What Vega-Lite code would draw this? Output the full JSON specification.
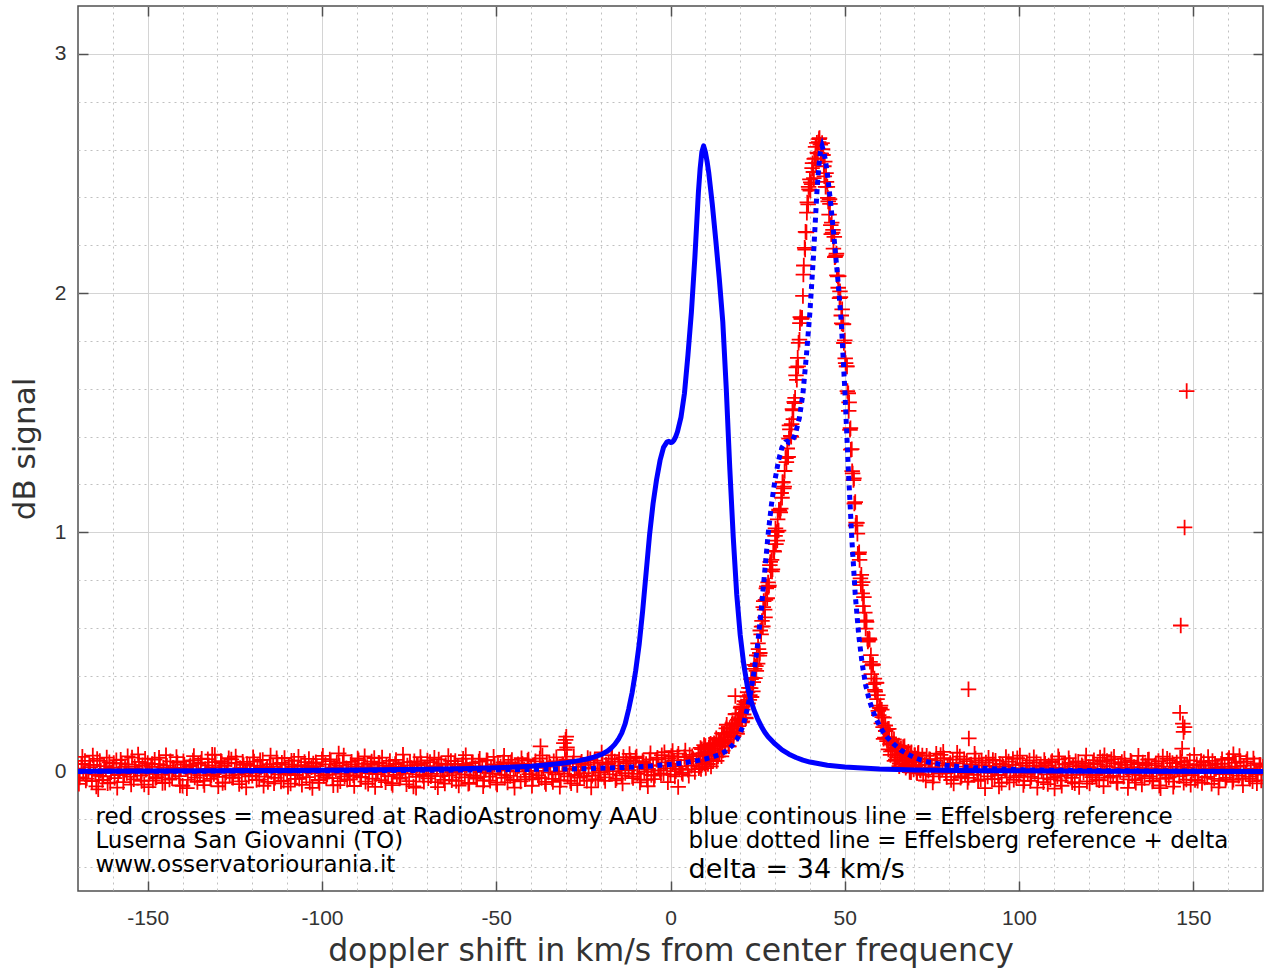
{
"$schema": "https://vega.github.io/schema/vega-lite/v6.json",
"autosize": {"type": "none"},
"width": 1185,
"height": 885,
"padding": {"left": 78, "top": 6, "right": 3, "bottom": 83},
"background": "white",
"config": {"view": {"stroke": "#505050", "strokeWidth": 1.5}},
"datasets": {
"measured": [
{"x":-170,"y":0.012},{"x":-169.5,"y":-0.025},{"x":-169,"y":0.031},{"x":-168.5,"y":-0.008},{"x":-168,"y":0.044},{"x":-167.5,"y":-0.030},{"x":-167,"y":0.005},{"x":-166.5,"y":0.018},{"x":-166,"y":-0.041},{"x":-165.5,"y":0.027},
{"x":-165,"y":-0.012},{"x":-164.5,"y":0.052},{"x":-164,"y":-0.019},{"x":-163.5,"y":0.003},{"x":-163,"y":-0.036},{"x":-162.5,"y":0.022},{"x":-162,"y":0.009},{"x":-161.5,"y":-0.050},{"x":-161,"y":0.038},{"x":-160.5,"y":-0.004},
{"x":-160,"y":0.015},{"x":-159.5,"y":-0.028},{"x":-159,"y":0.047},{"x":-158.5,"y":-0.015},{"x":-158,"y":0.001},{"x":-157.5,"y":0.033},{"x":-157,"y":-0.045},{"x":-156.5,"y":0.020},{"x":-156,"y":-0.007},{"x":-155.5,"y":0.029},
{"x":-155,"y":-0.022},{"x":-154.5,"y":0.058},{"x":-154,"y":-0.033},{"x":-153.5,"y":0.011},{"x":-153,"y":-0.002},{"x":-152.5,"y":0.040},{"x":-152,"y":-0.018},{"x":-151.5,"y":0.026},{"x":-151,"y":-0.055},{"x":-150.5,"y":0.007},
{"x":-150,"y":0.035},{"x":-149.5,"y":-0.010},{"x":-149,"y":0.019},{"x":-148.5,"y":-0.038},{"x":-148,"y":0.049},{"x":-147.5,"y":-0.024},{"x":-147,"y":0.002},{"x":-146.5,"y":0.030},{"x":-146,"y":-0.014},{"x":-145.5,"y":0.016},
{"x":-145,"y":-0.047},{"x":-144.5,"y":0.024},{"x":-144,"y":-0.006},{"x":-143.5,"y":0.042},{"x":-143,"y":-0.029},{"x":-142.5,"y":0.013},{"x":-142,"y":-0.001},{"x":-141.5,"y":0.037},{"x":-141,"y":-0.020},{"x":-140.5,"y":0.008},
{"x":-140,"y":-0.060},{"x":-139.5,"y":0.028},{"x":-139,"y":0.014},{"x":-138.5,"y":-0.035},{"x":-138,"y":0.021},{"x":-137.5,"y":-0.009},{"x":-137,"y":0.046},{"x":-136.5,"y":-0.026},{"x":-136,"y":0.004},{"x":-135.5,"y":0.032},
{"x":-135,"y":-0.016},{"x":-134.5,"y":0.053},{"x":-134,"y":-0.040},{"x":-133.5,"y":0.010},{"x":-133,"y":-0.003},{"x":-132.5,"y":0.025},{"x":-132,"y":-0.031},{"x":-131.5,"y":0.017},{"x":-131,"y":-0.011},{"x":-130.5,"y":0.039},
{"x":-130,"y":-0.023},{"x":-129.5,"y":0.006},{"x":-129,"y":0.043},{"x":-128.5,"y":-0.048},{"x":-128,"y":0.023},{"x":-127.5,"y":-0.005},{"x":-127,"y":0.034},{"x":-126.5,"y":-0.017},{"x":-126,"y":0.050},{"x":-125.5,"y":-0.027},
{"x":-125,"y":0.000},{"x":-124.5,"y":0.036},{"x":-124,"y":-0.013},{"x":-123.5,"y":0.014},{"x":-123,"y":-0.042},{"x":-122.5,"y":0.027},{"x":-122,"y":-0.008},{"x":-121.5,"y":0.031},{"x":-121,"y":-0.021},{"x":-120.5,"y":0.009},
{"x":-120,"y":-0.018},{"x":-119.5,"y":0.041},{"x":-119,"y":-0.006},{"x":-118.5,"y":0.023},{"x":-118,"y":-0.034},{"x":-117.5,"y":0.015},{"x":-117,"y":0.048},{"x":-116.5,"y":-0.022},{"x":-116,"y":0.007},{"x":-115.5,"y":-0.044},
{"x":-115,"y":0.030},{"x":-114.5,"y":-0.002},{"x":-114,"y":0.019},{"x":-113.5,"y":-0.027},{"x":-113,"y":0.055},{"x":-112.5,"y":-0.012},{"x":-112,"y":0.004},{"x":-111.5,"y":0.036},{"x":-111,"y":-0.039},{"x":-110.5,"y":0.012},
{"x":-110,"y":-0.009},{"x":-109.5,"y":0.028},{"x":-109,"y":-0.051},{"x":-108.5,"y":0.020},{"x":-108,"y":0.045},{"x":-107.5,"y":-0.015},{"x":-107,"y":0.003},{"x":-106.5,"y":-0.031},{"x":-106,"y":0.026},{"x":-105.5,"y":-0.004},
{"x":-105,"y":0.039},{"x":-104.5,"y":-0.024},{"x":-104,"y":0.011},{"x":-103.5,"y":-0.046},{"x":-103,"y":0.017},{"x":-102.5,"y":0.033},{"x":-102,"y":-0.008},{"x":-101.5,"y":0.022},{"x":-101,"y":-0.036},{"x":-100.5,"y":0.006},
{"x":-100,"y":0.051},{"x":-99.5,"y":-0.019},{"x":-99,"y":0.029},{"x":-98.5,"y":-0.013},{"x":-98,"y":-0.001},{"x":-97.5,"y":0.043},{"x":-97,"y":-0.028},{"x":-96.5,"y":0.016},{"x":-96,"y":0.008},{"x":-95.5,"y":-0.057},
{"x":-95,"y":0.024},{"x":-94.5,"y":-0.010},{"x":-94,"y":0.037},{"x":-93.5,"y":-0.021},{"x":-93,"y":0.013},{"x":-92.5,"y":0.002},{"x":-92,"y":-0.033},{"x":-91.5,"y":0.040},{"x":-91,"y":-0.016},{"x":-90.5,"y":0.021},
{"x":-90,"y":-0.005},{"x":-89.5,"y":0.047},{"x":-89,"y":-0.025},{"x":-88.5,"y":0.009},{"x":-88,"y":0.032},{"x":-87.5,"y":-0.043},{"x":-87,"y":0.018},{"x":-86.5,"y":-0.007},{"x":-86,"y":0.027},{"x":-85.5,"y":-0.030},
{"x":-85,"y":0.056},{"x":-84.5,"y":-0.011},{"x":-84,"y":0.005},{"x":-83.5,"y":0.035},{"x":-83,"y":-0.037},{"x":-82.5,"y":0.014},{"x":-82,"y":-0.003},{"x":-81.5,"y":0.024},{"x":-81,"y":-0.020},{"x":-80.5,"y":0.044},
{"x":-80,"y":-0.049},{"x":-79.5,"y":0.010},{"x":-79,"y":0.031},{"x":-78.5,"y":-0.014},{"x":-78,"y":0.019},{"x":-77.5,"y":-0.026},{"x":-77,"y":0.000},{"x":-76.5,"y":0.038},{"x":-76,"y":-0.009},{"x":-75.5,"y":0.025},
{"x":-75,"y":-0.041},{"x":-74.5,"y":0.015},{"x":-74,"y":0.006},{"x":-73.5,"y":0.042},{"x":-73,"y":-0.023},{"x":-72.5,"y":0.028},{"x":-72,"y":-0.012},{"x":-71.5,"y":0.034},{"x":-71,"y":-0.018},{"x":-70.5,"y":0.011},
{"x":-70,"y":0.007},{"x":-69.5,"y":-0.029},{"x":-69,"y":0.039},{"x":-68.5,"y":-0.010},{"x":-68,"y":0.022},{"x":-67.5,"y":-0.045},{"x":-67,"y":0.016},{"x":-66.5,"y":0.050},{"x":-66,"y":-0.020},{"x":-65.5,"y":0.003},
{"x":-65,"y":-0.035},{"x":-64.5,"y":0.027},{"x":-64,"y":0.012},{"x":-63.5,"y":-0.016},{"x":-63,"y":0.044},{"x":-62.5,"y":-0.006},{"x":-62,"y":0.031},{"x":-61.5,"y":-0.040},{"x":-61,"y":0.019},{"x":-60.5,"y":0.001},
{"x":-60,"y":-0.025},{"x":-59.5,"y":0.053},{"x":-59,"y":-0.013},{"x":-58.5,"y":0.024},{"x":-58,"y":-0.052},{"x":-57.5,"y":0.009},{"x":-57,"y":0.035},{"x":-56.5,"y":-0.018},{"x":-56,"y":0.014},{"x":-55.5,"y":-0.030},
{"x":-55,"y":0.041},{"x":-54.5,"y":-0.003},{"x":-54,"y":0.021},{"x":-53.5,"y":-0.038},{"x":-53,"y":0.006},{"x":-52.5,"y":0.046},{"x":-52,"y":-0.022},{"x":-51.5,"y":0.017},{"x":-51,"y":-0.008},{"x":-50.5,"y":0.029},
{"x":-50,"y":-0.047},{"x":-49.5,"y":0.026},{"x":-49,"y":0.011},{"x":-48.5,"y":-0.014},{"x":-48,"y":0.038},{"x":-47.5,"y":-0.027},{"x":-47,"y":0.004},{"x":-46.5,"y":0.033},{"x":-46,"y":-0.019},{"x":-45.5,"y":0.048},
{"x":-45,"y":-0.036},{"x":-44.5,"y":0.013},{"x":-44,"y":-0.001},{"x":-43.5,"y":0.023},{"x":-43,"y":-0.042},{"x":-42.5,"y":0.032},{"x":-42,"y":0.008},{"x":-41.5,"y":-0.023},{"x":-41,"y":0.045},{"x":-40.5,"y":-0.011},
{"x":-40,"y":0.018},{"x":-39.5,"y":-0.033},{"x":-39,"y":0.028},{"x":-38.5,"y":0.002},{"x":-38,"y":-0.017},{"x":-37.5,"y":0.054},{"x":-37,"y":-0.028},{"x":-36.5,"y":0.015},{"x":-36,"y":-0.044},{"x":-35.5,"y":0.037},
{"x":-35,"y":-0.005},{"x":-34.5,"y":0.020},{"x":-34,"y":-0.031},{"x":-33.5,"y":0.042},{"x":-33,"y":-0.012},{"x":-32.5,"y":0.025},{"x":-32,"y":0.000},{"x":-31.5,"y":-0.037},{"x":-31,"y":0.030},{"x":-30.5,"y":-0.009},
{"x":-30,"y":0.047},{"x":-29.5,"y":-0.021},{"x":-29,"y":0.010},{"x":-28.5,"y":-0.050},{"x":-28,"y":0.034},{"x":-27.5,"y":-0.015},{"x":-27,"y":0.019},{"x":-26.5,"y":0.005},{"x":-26,"y":-0.026},{"x":-25.5,"y":0.040},
{"x":-25,"y":-0.007},{"x":-24.5,"y":0.027},{"x":-24,"y":-0.039},{"x":-23.5,"y":0.016},{"x":-23,"y":0.051},{"x":-22.5,"y":-0.018},{"x":-22,"y":0.012},{"x":-21.5,"y":-0.032},{"x":-21,"y":0.036},{"x":-20.5,"y":0.003},
{"x":-20,"y":-0.004},{"x":-19.5,"y":0.038},{"x":-19,"y":-0.025},{"x":-18.5,"y":0.029},{"x":-18,"y":0.016},{"x":-17.5,"y":-0.012},{"x":-17,"y":0.053},{"x":-16.5,"y":0.001},{"x":-16,"y":0.041},{"x":-15.5,"y":-0.030},
{"x":-15,"y":0.024},{"x":-14.5,"y":0.012},{"x":-14,"y":-0.017},{"x":-13.5,"y":0.060},{"x":-13,"y":-0.007},{"x":-12.5,"y":0.034},{"x":-12,"y":0.005},{"x":-11.5,"y":0.047},{"x":-11,"y":-0.021},{"x":-10.5,"y":0.021},
{"x":-10,"y":0.056},{"x":-9.5,"y":-0.010},{"x":-9,"y":0.018},{"x":-8.5,"y":-0.034},{"x":-8,"y":0.043},{"x":-7.5,"y":-0.002},{"x":-7,"y":0.031},{"x":-6.5,"y":0.008},{"x":-6,"y":0.050},{"x":-5.5,"y":-0.015},
{"x":-5,"y":0.025},{"x":-4.5,"y":-0.018},{"x":-4,"y":0.049},{"x":-3.5,"y":0.024},{"x":-3,"y":0.004},{"x":-2.5,"y":0.068},{"x":-2,"y":-0.009},{"x":-1.5,"y":0.038},{"x":-1,"y":0.013},{"x":-0.5,"y":0.055},
{"x":0,"y":-0.014},{"x":0.5,"y":0.032},{"x":1,"y":0.046},{"x":1.5,"y":0.001},{"x":2,"y":0.062},{"x":2.5,"y":0.010},{"x":3,"y":0.021},{"x":3.5,"y":-0.011},{"x":4,"y":0.060},{"x":4.5,"y":0.047},
{"x":5,"y":0.007},{"x":5.5,"y":0.069},{"x":6,"y":0.024},{"x":6.5,"y":0.052},{"x":7,"y":-0.002},{"x":7.5,"y":0.043},
{"x":8,"y":0.075},{"x":8.25,"y":0.020},{"x":8.5,"y":0.064},{"x":8.75,"y":0.010},{"x":9,"y":0.093},{"x":9.25,"y":0.048},{"x":9.5,"y":0.076},{"x":9.75,"y":0.032},
{"x":10,"y":0.106},{"x":10.25,"y":0.047},{"x":10.5,"y":0.068},{"x":10.75,"y":0.031},{"x":11,"y":0.099},{"x":11.25,"y":0.052},{"x":11.5,"y":0.116},{"x":11.75,"y":0.072},
{"x":12,"y":0.094},{"x":12.25,"y":0.043},{"x":12.5,"y":0.118},{"x":12.75,"y":0.076},{"x":13,"y":0.112},{"x":13.25,"y":0.044},{"x":13.5,"y":0.104},{"x":13.75,"y":0.132},
{"x":14,"y":0.076},{"x":14.25,"y":0.122},{"x":14.5,"y":0.108},{"x":14.75,"y":0.159},{"x":15,"y":0.087},{"x":15.25,"y":0.131},{"x":15.5,"y":0.157},{"x":15.75,"y":0.117},
{"x":16,"y":0.180},{"x":16.25,"y":0.133},{"x":16.5,"y":0.160},{"x":16.75,"y":0.105},{"x":17,"y":0.181},{"x":17.25,"y":0.142},{"x":17.5,"y":0.162},{"x":17.75,"y":0.202},
{"x":18,"y":0.144},{"x":18.25,"y":0.198},{"x":18.5,"y":0.179},{"x":18.75,"y":0.240},{"x":19,"y":0.165},{"x":19.25,"y":0.216},{"x":19.5,"y":0.189},{"x":19.75,"y":0.243},
{"x":20,"y":0.216},{"x":20.25,"y":0.271},{"x":20.5,"y":0.205},{"x":20.75,"y":0.259},{"x":21,"y":0.238},{"x":21.25,"y":0.294},{"x":21.5,"y":0.225},{"x":21.75,"y":0.288},
{"x":22,"y":0.313},{"x":22.25,"y":0.284},{"x":22.5,"y":0.349},{"x":22.75,"y":0.319},{"x":23,"y":0.348},{"x":23.25,"y":0.311},{"x":23.5,"y":0.391},{"x":23.75,"y":0.373},
{"x":24,"y":0.445},{"x":24.25,"y":0.390},{"x":24.5,"y":0.440},{"x":24.75,"y":0.485},{"x":25,"y":0.451},{"x":25.25,"y":0.511},{"x":25.5,"y":0.484},{"x":25.75,"y":0.589},
{"x":26,"y":0.573},{"x":26.25,"y":0.629},{"x":26.5,"y":0.606},{"x":26.75,"y":0.712},{"x":27,"y":0.676},{"x":27.25,"y":0.717},{"x":27.5,"y":0.765},{"x":27.75,"y":0.724},
{"x":28,"y":0.790},{"x":28.25,"y":0.777},{"x":28.5,"y":0.862},{"x":28.75,"y":0.837},{"x":29,"y":0.884},{"x":29.25,"y":0.845},{"x":29.5,"y":0.922},{"x":29.75,"y":0.919},
{"x":30,"y":0.985},{"x":30.25,"y":0.950},{"x":30.5,"y":1.001},{"x":30.75,"y":1.054},{"x":31,"y":1.007},{"x":31.25,"y":1.089},{"x":31.5,"y":1.083},{"x":31.75,"y":1.164},
{"x":32,"y":1.144},{"x":32.25,"y":1.209},{"x":32.5,"y":1.183},{"x":32.75,"y":1.256},{"x":33,"y":1.313},{"x":33.25,"y":1.293},{"x":33.5,"y":1.350},{"x":33.75,"y":1.315},
{"x":34,"y":1.391},{"x":34.25,"y":1.430},{"x":34.5,"y":1.403},{"x":34.75,"y":1.452},{"x":35,"y":1.514},{"x":35.25,"y":1.473},{"x":35.5,"y":1.545},{"x":35.75,"y":1.562},
{"x":36,"y":1.656},{"x":36.25,"y":1.637},{"x":36.5,"y":1.729},{"x":36.75,"y":1.792},{"x":37,"y":1.805},{"x":37.25,"y":1.899},{"x":37.5,"y":1.893},{"x":37.75,"y":1.897},
{"x":38,"y":1.988},{"x":38.25,"y":2.115},{"x":38.5,"y":2.189},{"x":38.75,"y":2.256},{"x":39,"y":2.254},{"x":39.25,"y":2.379},{"x":39.5,"y":2.371},{"x":39.75,"y":2.433},
{"x":40,"y":2.475},{"x":40.25,"y":2.463},{"x":40.5,"y":2.455},{"x":40.75,"y":2.543},{"x":41,"y":2.506},{"x":41.25,"y":2.561},{"x":41.5,"y":2.563},{"x":41.75,"y":2.543},
{"x":42,"y":2.628},{"x":42.25,"y":2.584},{"x":42.5,"y":2.631},{"x":42.75,"y":2.648},{"x":43,"y":2.621},{"x":43.25,"y":2.582},{"x":43.5,"y":2.627},{"x":43.75,"y":2.577},
{"x":44,"y":2.530},{"x":44.25,"y":2.549},{"x":44.5,"y":2.444},{"x":44.75,"y":2.465},{"x":45,"y":2.444},{"x":45.25,"y":2.383},{"x":45.5,"y":2.328},{"x":45.75,"y":2.373},
{"x":46,"y":2.284},{"x":46.25,"y":2.294},{"x":46.5,"y":2.252},{"x":46.75,"y":2.186},{"x":47,"y":2.235},{"x":47.25,"y":2.152},{"x":47.5,"y":2.157},{"x":47.75,"y":2.074},
{"x":48,"y":2.070},{"x":48.25,"y":2.071},{"x":48.5,"y":1.979},{"x":48.75,"y":1.983},{"x":49,"y":1.906},{"x":49.25,"y":1.932},{"x":49.5,"y":1.869},{"x":49.75,"y":1.791},
{"x":50,"y":1.802},{"x":50.25,"y":1.707},{"x":50.5,"y":1.693},{"x":50.75,"y":1.590},{"x":51,"y":1.581},{"x":51.25,"y":1.543},{"x":51.5,"y":1.428},{"x":51.75,"y":1.345},
{"x":52,"y":1.347},{"x":52.25,"y":1.246},{"x":52.5,"y":1.218},{"x":52.75,"y":1.120},{"x":53,"y":1.126},{"x":53.25,"y":1.040},{"x":53.5,"y":1.039},{"x":53.75,"y":0.910},
{"x":54,"y":0.908},{"x":54.25,"y":0.884},{"x":54.5,"y":0.807},{"x":54.75,"y":0.822},{"x":55,"y":0.744},{"x":55.25,"y":0.691},{"x":55.5,"y":0.729},{"x":55.75,"y":0.664},
{"x":56,"y":0.597},{"x":56.25,"y":0.625},{"x":56.5,"y":0.555},{"x":56.75,"y":0.548},{"x":57,"y":0.556},{"x":57.25,"y":0.458},{"x":57.5,"y":0.486},{"x":57.75,"y":0.443},
{"x":58,"y":0.448},{"x":58.25,"y":0.365},{"x":58.5,"y":0.388},{"x":58.75,"y":0.334},{"x":59,"y":0.371},{"x":59.25,"y":0.302},{"x":59.5,"y":0.319},{"x":59.75,"y":0.235},
{"x":60,"y":0.267},{"x":60.25,"y":0.275},{"x":60.5,"y":0.201},{"x":60.75,"y":0.227},{"x":61,"y":0.185},{"x":61.25,"y":0.225},{"x":61.5,"y":0.141},{"x":61.75,"y":0.169},
{"x":62,"y":0.136},{"x":62.25,"y":0.177},{"x":62.5,"y":0.092},{"x":62.75,"y":0.142},{"x":63,"y":0.114},{"x":63.25,"y":0.084},{"x":63.5,"y":0.135},{"x":63.75,"y":0.087},
{"x":64,"y":0.117},{"x":64.25,"y":0.044},{"x":64.5,"y":0.098},{"x":64.75,"y":0.110},{"x":65,"y":0.059},{"x":65.25,"y":0.068},{"x":65.5,"y":0.108},{"x":65.75,"y":0.033},
{"x":66,"y":0.072},{"x":66.25,"y":0.079},{"x":66.5,"y":0.032},{"x":66.75,"y":0.102},{"x":67,"y":0.045},{"x":67.25,"y":0.059},{"x":67.5,"y":0.015},{"x":67.75,"y":0.077},
{"x":68,"y":0.028},{"x":68.25,"y":0.082},{"x":68.5,"y":0.036},{"x":68.75,"y":0.065},{"x":69,"y":-0.004},{"x":69.25,"y":0.056},{"x":69.5,"y":0.040},{"x":69.75,"y":0.008},
{"x":70,"y":0.068},{"x":70.25,"y":0.022},{"x":70.5,"y":0.054},{"x":70.75,"y":-0.008},{"x":71,"y":0.073},{"x":71.25,"y":0.025},{"x":71.5,"y":0.042},{"x":71.75,"y":0.004},
{"x":72,"y":0.041},{"x":72.5,"y":-0.014},{"x":73,"y":0.028},{"x":73.5,"y":0.065},{"x":74,"y":0.003},{"x":74.5,"y":0.050},{"x":75,"y":0.017},{"x":75.5,"y":-0.021},{"x":76,"y":0.046},{"x":76.5,"y":0.033},
{"x":77,"y":-0.002},{"x":77.5,"y":0.069},{"x":78,"y":0.011},{"x":78.5,"y":0.055},{"x":79,"y":-0.008},{"x":79.5,"y":0.024},{"x":80,"y":0.027},{"x":80.5,"y":-0.036},{"x":81,"y":0.049},{"x":81.5,"y":-0.003},
{"x":82,"y":0.034},{"x":82.5,"y":0.009},{"x":83,"y":0.062},{"x":83.5,"y":-0.020},{"x":84,"y":0.020},{"x":84.5,"y":-0.009},{"x":85,"y":0.043},{"x":85.5,"y":-0.027},{"x":86,"y":0.028},{"x":86.5,"y":0.016},
{"x":87,"y":-0.014},{"x":87.5,"y":0.054},{"x":88,"y":-0.001},{"x":88.5,"y":0.038},{"x":89,"y":-0.033},{"x":89.5,"y":0.025},{"x":90,"y":0.001},{"x":90.5,"y":0.037},{"x":91,"y":-0.021},{"x":91.5,"y":0.022},
{"x":92,"y":-0.006},{"x":92.5,"y":0.048},{"x":93,"y":-0.032},{"x":93.5,"y":0.012},{"x":94,"y":-0.015},{"x":94.5,"y":0.031},{"x":95,"y":-0.048},{"x":95.5,"y":0.020},{"x":96,"y":0.009},{"x":96.5,"y":-0.026},
{"x":97,"y":0.041},{"x":97.5,"y":-0.004},{"x":98,"y":0.027},{"x":98.5,"y":-0.035},{"x":99,"y":0.014},{"x":99.5,"y":0.055},{"x":100,"y":-0.018},{"x":100.5,"y":0.003},{"x":101,"y":0.034},{"x":101.5,"y":-0.040},
{"x":102,"y":0.023},{"x":102.5,"y":-0.010},{"x":103,"y":0.046},{"x":103.5,"y":-0.023},{"x":104,"y":0.011},{"x":104.5,"y":-0.002},{"x":105,"y":0.038},{"x":105.5,"y":-0.029},{"x":106,"y":0.019},{"x":106.5,"y":0.005},
{"x":107,"y":-0.045},{"x":107.5,"y":0.032},{"x":108,"y":-0.012},{"x":108.5,"y":0.025},{"x":109,"y":-0.033},{"x":109.5,"y":0.043},{"x":110,"y":-0.007},{"x":110.5,"y":0.016},{"x":111,"y":-0.020},{"x":111.5,"y":0.050},
{"x":112,"y":-0.038},{"x":112.5,"y":0.013},{"x":113,"y":0.029},{"x":113.5,"y":-0.016},{"x":114,"y":0.002},{"x":114.5,"y":0.036},{"x":115,"y":-0.027},{"x":115.5,"y":0.021},{"x":116,"y":-0.050},{"x":116.5,"y":0.008},
{"x":117,"y":0.040},{"x":117.5,"y":-0.014},{"x":118,"y":0.026},{"x":118.5,"y":-0.005},{"x":119,"y":0.033},{"x":119.5,"y":-0.042},{"x":120,"y":0.018},{"x":120.5,"y":0.010},{"x":121,"y":-0.024},{"x":121.5,"y":0.047},
{"x":122,"y":-0.015},{"x":122.5,"y":0.029},{"x":123,"y":-0.037},{"x":123.5,"y":0.012},{"x":124,"y":0.042},{"x":124.5,"y":-0.008},{"x":125,"y":0.022},{"x":125.5,"y":-0.026},{"x":126,"y":0.005},{"x":126.5,"y":0.051},
{"x":127,"y":-0.019},{"x":127.5,"y":0.034},{"x":128,"y":-0.044},{"x":128.5,"y":0.016},{"x":129,"y":-0.003},{"x":129.5,"y":0.039},{"x":130,"y":-0.022},{"x":130.5,"y":0.027},{"x":131,"y":0.009},{"x":131.5,"y":-0.033},
{"x":132,"y":0.045},{"x":132.5,"y":-0.012},{"x":133,"y":0.018},{"x":133.5,"y":-0.047},{"x":134,"y":0.031},{"x":134.5,"y":0.003},{"x":135,"y":-0.017},{"x":135.5,"y":0.037},{"x":136,"y":-0.028},{"x":136.5,"y":0.014},
{"x":137,"y":0.049},{"x":137.5,"y":-0.021},{"x":138,"y":0.007},{"x":138.5,"y":-0.039},{"x":139,"y":0.025},{"x":139.5,"y":-0.006},{"x":140,"y":0.043},{"x":140.5,"y":-0.030},{"x":141,"y":0.011},{"x":141.5,"y":0.020},
{"x":142,"y":-0.014},{"x":142.5,"y":0.053},{"x":143,"y":-0.025},{"x":143.5,"y":0.000},{"x":144,"y":0.035},{"x":144.5,"y":-0.043},{"x":145,"y":0.019},{"x":145.5,"y":0.008},{"x":146,"y":-0.020},{"x":146.5,"y":0.040},
{"x":147,"y":-0.010},{"x":147.5,"y":0.028},{"x":148,"y":-0.034},{"x":148.5,"y":0.015},{"x":149,"y":0.046},{"x":149.5,"y":-0.016},{"x":150,"y":0.004},{"x":150.5,"y":-0.036},{"x":151,"y":0.030},{"x":151.5,"y":-0.007},
{"x":152,"y":0.023},{"x":152.5,"y":-0.048},{"x":153,"y":0.038},{"x":153.5,"y":0.013},{"x":154,"y":-0.023},{"x":154.5,"y":0.026},{"x":155,"y":-0.002},{"x":155.5,"y":0.044},{"x":156,"y":-0.031},{"x":156.5,"y":0.010},
{"x":157,"y":0.017},{"x":157.5,"y":-0.040},{"x":158,"y":0.032},{"x":158.5,"y":-0.011},{"x":159,"y":0.021},{"x":159.5,"y":-0.027},{"x":160,"y":0.048},{"x":160.5,"y":-0.004},{"x":161,"y":0.014},{"x":161.5,"y":-0.035},
{"x":162,"y":0.036},{"x":162.5,"y":0.006},{"x":163,"y":-0.018},{"x":163.5,"y":0.041},{"x":164,"y":-0.029},{"x":164.5,"y":0.024},{"x":165,"y":-0.009},{"x":165.5,"y":0.052},{"x":166,"y":-0.022},{"x":166.5,"y":0.012},
{"x":167,"y":-0.041},{"x":167.5,"y":0.033},{"x":168,"y":0.002},{"x":168.5,"y":-0.013},{"x":169,"y":0.027},{"x":169.5,"y":-0.038},{"x":170,"y":0.019},
{"x":-164.2,"y":-0.075},{"x":-131.5,"y":0.070},{"x":-95.2,"y":0.075},{"x":-73,"y":-0.068},{"x":-37.3,"y":0.105},{"x":-30.6,"y":0.118},{"x":-30.1,"y":0.132},{"x":-29.7,"y":0.100},{"x":-30.3,"y":0.090},{"x":-29.9,"y":0.145},
{"x":-6.5,"y":-0.062},{"x":0.6,"y":0.085},{"x":2.2,"y":-0.065},{"x":18.6,"y":0.315},{"x":85.5,"y":0.343},{"x":85.6,"y":0.138},{"x":110.2,"y":-0.072},{"x":124.5,"y":0.068},{"x":146.2,"y":0.245},{"x":147,"y":0.200},
{"x":147.5,"y":0.185},{"x":147.2,"y":0.165},{"x":146.8,"y":0.095},{"x":146.4,"y":0.610},{"x":147.5,"y":1.020},{"x":148.1,"y":1.590},{"x":161.5,"y":0.072},{"x":140.6,"y":-0.070},
{"x":-169.75,"y":-0.052},{"x":-168.75,"y":0.061},{"x":-167.75,"y":-0.038},{"x":-166.75,"y":0.027},{"x":-165.75,"y":0.066},{"x":-164.75,"y":-0.063},{"x":-163.75,"y":0.044},{"x":-162.75,"y":-0.021},{"x":-161.75,"y":0.058},{"x":-160.75,"y":-0.047},
{"x":-159.75,"y":0.035},{"x":-158.75,"y":-0.068},{"x":-157.75,"y":0.049},{"x":-156.75,"y":-0.012},{"x":-155.75,"y":0.063},{"x":-154.75,"y":-0.055},{"x":-153.75,"y":0.020},{"x":-152.75,"y":0.071},{"x":-151.75,"y":-0.040},{"x":-150.75,"y":0.053},
{"x":-149.75,"y":-0.066},{"x":-148.75,"y":0.031},{"x":-147.75,"y":-0.028},{"x":-146.75,"y":0.057},{"x":-145.75,"y":-0.049},{"x":-144.75,"y":0.068},{"x":-143.75,"y":-0.034},{"x":-142.75,"y":0.015},{"x":-141.75,"y":0.060},{"x":-140.75,"y":-0.059},
{"x":-139.75,"y":0.042},{"x":-138.75,"y":-0.070},{"x":-137.75,"y":0.026},{"x":-136.75,"y":0.064},{"x":-135.75,"y":-0.044},{"x":-134.75,"y":0.037},{"x":-133.75,"y":-0.057},{"x":-132.75,"y":0.051},{"x":-131.75,"y":-0.018},{"x":-130.75,"y":0.069},
{"x":-129.75,"y":-0.062},{"x":-128.75,"y":0.033},{"x":-127.75,"y":-0.046},{"x":-126.75,"y":0.055},{"x":-125.75,"y":-0.025},{"x":-124.75,"y":0.062},{"x":-123.75,"y":-0.053},{"x":-122.75,"y":0.040},{"x":-121.75,"y":-0.067},{"x":-120.75,"y":0.024},
{"x":-119.75,"y":0.059},{"x":-118.75,"y":-0.036},{"x":-117.75,"y":0.047},{"x":-116.75,"y":-0.060},{"x":-115.75,"y":0.018},{"x":-114.75,"y":0.066},{"x":-113.75,"y":-0.050},{"x":-112.75,"y":0.030},{"x":-111.75,"y":-0.042},{"x":-110.75,"y":0.056},
{"x":-109.75,"y":-0.064},{"x":-108.75,"y":0.045},{"x":-107.75,"y":-0.031},{"x":-106.75,"y":0.061},{"x":-105.75,"y":-0.056},{"x":-104.75,"y":0.022},{"x":-103.75,"y":0.052},{"x":-102.75,"y":-0.069},{"x":-101.75,"y":0.038},{"x":-100.75,"y":-0.048},
{"x":-99.75,"y":0.065},{"x":-98.75,"y":-0.027},{"x":-97.75,"y":0.050},{"x":-96.75,"y":-0.058},{"x":-95.75,"y":0.034},{"x":-94.75,"y":-0.041},{"x":-93.75,"y":0.067},{"x":-92.75,"y":-0.035},{"x":-91.75,"y":0.029},{"x":-90.75,"y":-0.061},
{"x":-89.75,"y":0.054},{"x":-88.75,"y":-0.023},{"x":-87.75,"y":0.063},{"x":-86.75,"y":-0.052},{"x":-85.75,"y":0.041},{"x":-84.75,"y":-0.065},{"x":-83.75,"y":0.036},{"x":-82.75,"y":0.058},{"x":-81.75,"y":-0.045},{"x":-80.75,"y":0.019},
{"x":-79.75,"y":-0.057},{"x":-78.75,"y":0.048},{"x":-77.75,"y":-0.030},{"x":-76.75,"y":0.070},{"x":-75.75,"y":-0.054},{"x":-74.75,"y":0.039},{"x":-73.75,"y":-0.063},{"x":-72.75,"y":0.025},{"x":-71.75,"y":0.060},{"x":-70.75,"y":-0.043},
{"x":-69.75,"y":0.046},{"x":-68.75,"y":-0.020},{"x":-67.75,"y":0.057},{"x":-66.75,"y":-0.066},{"x":-65.75,"y":0.032},{"x":-64.75,"y":-0.051},{"x":-63.75,"y":0.064},{"x":-62.75,"y":-0.037},{"x":-61.75,"y":0.043},{"x":-60.75,"y":-0.059},
{"x":-59.75,"y":0.028},{"x":-58.75,"y":0.068},{"x":-57.75,"y":-0.048},{"x":-56.75,"y":0.035},{"x":-55.75,"y":-0.024},{"x":-54.75,"y":0.053},{"x":-53.75,"y":-0.062},{"x":-52.75,"y":0.047},{"x":-51.75,"y":-0.039},{"x":-50.75,"y":0.061},
{"x":-49.75,"y":-0.055},{"x":-48.75,"y":0.021},{"x":-47.75,"y":0.065},{"x":-46.75,"y":-0.046},{"x":-45.75,"y":0.038},{"x":-44.75,"y":-0.068},{"x":-43.75,"y":0.030},{"x":-42.75,"y":0.055},{"x":-41.75,"y":-0.033},{"x":-40.75,"y":0.050},
{"x":-39.75,"y":-0.060},{"x":-38.75,"y":0.042},{"x":-37.75,"y":-0.026},{"x":-36.75,"y":0.067},{"x":-35.75,"y":-0.053},{"x":-34.75,"y":0.036},{"x":-33.75,"y":-0.044},{"x":-32.75,"y":0.059},{"x":-31.75,"y":-0.064},{"x":-30.75,"y":0.027},
{"x":-29.75,"y":0.049},{"x":-28.75,"y":-0.040},{"x":-27.75,"y":0.062},{"x":-26.75,"y":-0.057},{"x":-25.75,"y":0.033},{"x":-24.75,"y":-0.022},{"x":-23.75,"y":0.056},{"x":-22.75,"y":-0.067},{"x":-21.75,"y":0.045},{"x":-20.75,"y":-0.035},
{"x":-19.75,"y":0.079},{"x":-18.75,"y":-0.040},{"x":-17.75,"y":0.034},{"x":-16.75,"y":0.068},{"x":-15.75,"y":-0.037},{"x":-14.75,"y":0.050},{"x":-13.75,"y":-0.051},{"x":-12.75,"y":0.041},{"x":-11.75,"y":0.073},{"x":-10.75,"y":-0.028},
{"x":-9.75,"y":0.062},{"x":-8.75,"y":-0.046},{"x":-7.75,"y":0.038},{"x":-6.75,"y":-0.035},{"x":-5.75,"y":0.076},{"x":-4.75,"y":-0.032},{"x":-3.75,"y":0.057},{"x":-2.75,"y":-0.009},{"x":-1.75,"y":0.080},{"x":-0.75,"y":-0.045},
{"x":0.25,"y":0.064},{"x":1.25,"y":-0.021},{"x":2.25,"y":0.074},{"x":3.25,"y":-0.006},{"x":4.25,"y":0.087},{"x":5.25,"y":-0.018},{"x":6.25,"y":0.063},
{"x":8.125,"y":0.013},{"x":8.625,"y":0.098},{"x":9.125,"y":0.034},{"x":9.625,"y":0.110},{"x":10.125,"y":0.014},{"x":10.625,"y":0.084},{"x":11.125,"y":0.111},{"x":11.625,"y":0.021},
{"x":12.125,"y":0.110},{"x":12.625,"y":0.074},{"x":13.125,"y":0.139},{"x":13.625,"y":0.062},{"x":14.125,"y":0.124},{"x":14.625,"y":0.063},{"x":15.125,"y":0.159},{"x":15.625,"y":0.124},
{"x":16.125,"y":0.195},{"x":16.625,"y":0.105},{"x":17.125,"y":0.166},{"x":17.625,"y":0.195},{"x":18.125,"y":0.148},{"x":18.625,"y":0.239},{"x":19.125,"y":0.157},{"x":19.625,"y":0.221},
{"x":20.125,"y":0.266},{"x":20.625,"y":0.209},{"x":21.125,"y":0.280},{"x":21.625,"y":0.222},{"x":22.125,"y":0.331},{"x":22.625,"y":0.299},{"x":23.125,"y":0.386},{"x":23.625,"y":0.335},
{"x":24.125,"y":0.429},{"x":24.625,"y":0.420},{"x":25.125,"y":0.535},{"x":25.625,"y":0.495},{"x":26.125,"y":0.605},{"x":26.625,"y":0.687},{"x":27.125,"y":0.644},{"x":27.625,"y":0.773},
{"x":28.125,"y":0.771},{"x":28.625,"y":0.876},{"x":29.125,"y":0.836},{"x":29.625,"y":0.922},{"x":30.125,"y":1.016},{"x":30.625,"y":0.965},{"x":31.125,"y":1.094},{"x":31.625,"y":1.099},
{"x":32.125,"y":1.209},{"x":32.625,"y":1.191},{"x":33.125,"y":1.310},{"x":33.625,"y":1.314},{"x":34.125,"y":1.447},{"x":34.625,"y":1.399},{"x":35.125,"y":1.509},{"x":35.625,"y":1.540},
{"x":36.125,"y":1.689},{"x":36.625,"y":1.693},{"x":37.125,"y":1.874},{"x":37.625,"y":1.892},{"x":38.125,"y":2.077},{"x":38.625,"y":2.182},{"x":39.125,"y":2.336},{"x":39.625,"y":2.444},
{"x":40.125,"y":2.428},{"x":40.625,"y":2.522},{"x":41.125,"y":2.480},{"x":41.625,"y":2.611},{"x":42.125,"y":2.587},{"x":42.625,"y":2.644},{"x":43.125,"y":2.584},{"x":43.625,"y":2.601},
{"x":44.125,"y":2.488},{"x":44.625,"y":2.501},{"x":45.125,"y":2.398},{"x":45.625,"y":2.392},{"x":46.125,"y":2.246},{"x":46.625,"y":2.264},{"x":47.125,"y":2.150},{"x":47.625,"y":2.165},
{"x":48.125,"y":2.022},{"x":48.625,"y":2.007},{"x":49.125,"y":1.873},{"x":49.625,"y":1.870},{"x":50.125,"y":1.727},{"x":50.625,"y":1.693},{"x":51.125,"y":1.507},{"x":51.625,"y":1.435},
{"x":52.125,"y":1.255},{"x":52.625,"y":1.225},{"x":53.125,"y":1.028},{"x":53.625,"y":0.994},{"x":54.125,"y":0.916},{"x":54.625,"y":0.779},{"x":55.125,"y":0.791},{"x":55.625,"y":0.628},
{"x":56.125,"y":0.631},{"x":56.625,"y":0.543},{"x":57.125,"y":0.551},{"x":57.625,"y":0.407},{"x":58.125,"y":0.445},{"x":58.625,"y":0.341},{"x":59.125,"y":0.370},{"x":59.625,"y":0.253},
{"x":60.125,"y":0.264},{"x":60.625,"y":0.258},{"x":61.125,"y":0.136},{"x":61.625,"y":0.192},{"x":62.125,"y":0.127},{"x":62.625,"y":0.178},{"x":63.125,"y":0.069},{"x":63.625,"y":0.114},
{"x":64.125,"y":0.134},{"x":64.625,"y":0.049},{"x":65.125,"y":0.102},{"x":65.625,"y":0.022},{"x":66.125,"y":0.097},{"x":66.625,"y":0.048},{"x":67.125,"y":0.105},{"x":67.625,"y":0.022},
{"x":68.125,"y":0.067},{"x":68.625,"y":-0.003},{"x":69.125,"y":0.080},{"x":69.625,"y":0.024},{"x":70.125,"y":0.068},{"x":70.625,"y":-0.004},{"x":71.125,"y":0.078},{"x":71.625,"y":0.006},
{"x":72.25,"y":0.067},{"x":73.25,"y":-0.038},{"x":74.25,"y":0.051},{"x":75.25,"y":-0.046},{"x":76.25,"y":0.074},{"x":77.25,"y":-0.009},{"x":78.25,"y":0.082},{"x":79.25,"y":-0.023},{"x":80.25,"y":0.035},{"x":81.25,"y":-0.051},
{"x":82.25,"y":0.078},{"x":83.25,"y":-0.027},{"x":84.25,"y":0.051},{"x":85.25,"y":-0.044},{"x":86.25,"y":0.029},{"x":87.25,"y":0.074},{"x":88.25,"y":-0.039},{"x":89.25,"y":0.046},{"x":90.25,"y":-0.070},{"x":91.25,"y":0.057},
{"x":92.25,"y":-0.032},{"x":93.25,"y":0.045},{"x":94.25,"y":-0.063},{"x":95.25,"y":0.028},{"x":96.25,"y":0.060},{"x":97.25,"y":-0.046},{"x":98.25,"y":0.052},{"x":99.25,"y":-0.024},{"x":100.25,"y":0.066},{"x":101.25,"y":-0.057},
{"x":102.25,"y":0.034},{"x":103.25,"y":-0.040},{"x":104.25,"y":0.059},{"x":105.25,"y":-0.068},{"x":106.25,"y":0.023},{"x":107.25,"y":0.048},{"x":108.25,"y":-0.053},{"x":109.25,"y":0.038},{"x":110.25,"y":-0.027},{"x":111.25,"y":0.063},
{"x":112.25,"y":-0.060},{"x":113.25,"y":0.030},{"x":114.25,"y":0.055},{"x":115.25,"y":-0.045},{"x":116.25,"y":0.042},{"x":117.25,"y":-0.065},{"x":118.25,"y":0.021},{"x":119.25,"y":0.067},{"x":120.25,"y":-0.051},{"x":121.25,"y":0.035},
{"x":122.25,"y":-0.033},{"x":123.25,"y":0.058},{"x":124.25,"y":-0.062},{"x":125.25,"y":0.044},{"x":126.25,"y":-0.022},{"x":127.25,"y":0.061},{"x":128.25,"y":-0.048},{"x":129.25,"y":0.029},{"x":130.25,"y":0.053},{"x":131.25,"y":-0.069},
{"x":132.25,"y":0.039},{"x":133.25,"y":-0.036},{"x":134.25,"y":0.065},{"x":135.25,"y":-0.055},{"x":136.25,"y":0.026},{"x":137.25,"y":0.050},{"x":138.25,"y":-0.042},{"x":139.25,"y":0.033},{"x":140.25,"y":-0.059},{"x":141.25,"y":0.062},
{"x":142.25,"y":-0.030},{"x":143.25,"y":0.046},{"x":144.25,"y":-0.064},{"x":145.25,"y":0.037},{"x":146.25,"y":0.057},{"x":147.25,"y":-0.047},{"x":148.25,"y":0.024},{"x":149.25,"y":-0.056},{"x":150.25,"y":0.069},{"x":151.25,"y":-0.039},
{"x":152.25,"y":0.043},{"x":153.25,"y":-0.026},{"x":154.25,"y":0.060},{"x":155.25,"y":-0.052},{"x":156.25,"y":0.032},{"x":157.25,"y":-0.067},{"x":158.25,"y":0.051},{"x":159.25,"y":-0.034},{"x":160.25,"y":0.056},{"x":161.25,"y":-0.044},
{"x":162.25,"y":0.020},{"x":163.25,"y":0.064},{"x":164.25,"y":-0.058},{"x":165.25,"y":0.041},{"x":166.25,"y":-0.031},{"x":167.25,"y":0.054},{"x":168.25,"y":-0.050},{"x":169.25,"y":0.027}
],
"ref": [
{"x":-170,"y":0.001},{"x":-150,"y":0.002},{"x":-130,"y":0.003},{"x":-110,"y":0.004},{"x":-90,"y":0.006},{"x":-70,"y":0.009},{"x":-60,"y":0.011},{"x":-50,"y":0.015},{"x":-45,"y":0.018},{"x":-40,"y":0.022},
{"x":-36,"y":0.027},{"x":-33,"y":0.031},{"x":-30,"y":0.036},{"x":-28,"y":0.041},{"x":-26,"y":0.046},{"x":-24,"y":0.052},{"x":-22,"y":0.060},{"x":-20,"y":0.070},{"x":-19,"y":0.077},{"x":-18,"y":0.086},
{"x":-17,"y":0.098},{"x":-16,"y":0.113},{"x":-15,"y":0.133},{"x":-14,"y":0.160},{"x":-13,"y":0.200},{"x":-12,"y":0.260},{"x":-11,"y":0.330},{"x":-10,"y":0.420},{"x":-9,"y":0.530},{"x":-8,"y":0.670},
{"x":-7,"y":0.830},{"x":-6,"y":0.990},{"x":-5,"y":1.120},{"x":-4,"y":1.220},{"x":-3,"y":1.300},{"x":-2,"y":1.355},{"x":-1,"y":1.378},{"x":-0.5,"y":1.380},{"x":0,"y":1.375},{"x":0.5,"y":1.376},
{"x":1,"y":1.385},{"x":1.5,"y":1.400},{"x":2,"y":1.420},{"x":3,"y":1.480},{"x":4,"y":1.580},{"x":5,"y":1.740},{"x":6,"y":1.920},{"x":7,"y":2.150},{"x":8,"y":2.420},{"x":8.5,"y":2.520},
{"x":9,"y":2.590},{"x":9.5,"y":2.615},{"x":10,"y":2.590},{"x":10.5,"y":2.550},{"x":11,"y":2.500},{"x":12,"y":2.370},{"x":13,"y":2.220},{"x":14,"y":2.060},{"x":15,"y":1.880},{"x":16,"y":1.600},
{"x":17,"y":1.270},{"x":18,"y":0.980},{"x":19,"y":0.740},{"x":20,"y":0.570},{"x":21,"y":0.450},{"x":22,"y":0.360},{"x":23,"y":0.300},{"x":24,"y":0.255},{"x":25,"y":0.220},{"x":26,"y":0.190},
{"x":27,"y":0.165},{"x":28,"y":0.145},{"x":30,"y":0.115},{"x":32,"y":0.090},{"x":34,"y":0.072},{"x":36,"y":0.058},{"x":38,"y":0.047},{"x":40,"y":0.039},{"x":45,"y":0.026},{"x":50,"y":0.018},
{"x":60,"y":0.010},{"x":70,"y":0.006},{"x":90,"y":0.003},{"x":120,"y":0.001},{"x":170,"y":0.000}
],
"shifted": [
{"x":-170,"y":0.000},{"x":-136,"y":0.001},{"x":-116,"y":0.002},{"x":-96,"y":0.003},{"x":-76,"y":0.004},{"x":-56,"y":0.006},{"x":-36,"y":0.009},{"x":-26,"y":0.011},{"x":-16,"y":0.015},{"x":-11,"y":0.018},
{"x":-6,"y":0.022},{"x":-2,"y":0.027},{"x":1,"y":0.031},{"x":4,"y":0.036},{"x":6,"y":0.041},{"x":8,"y":0.046},{"x":10,"y":0.052},{"x":12,"y":0.060},{"x":14,"y":0.070},{"x":15,"y":0.077},
{"x":16,"y":0.086},{"x":17,"y":0.098},{"x":18,"y":0.113},{"x":19,"y":0.133},{"x":20,"y":0.160},{"x":21,"y":0.200},{"x":22,"y":0.260},{"x":23,"y":0.330},{"x":24,"y":0.420},{"x":25,"y":0.530},
{"x":26,"y":0.670},{"x":27,"y":0.830},{"x":28,"y":0.990},{"x":29,"y":1.120},{"x":30,"y":1.220},{"x":31,"y":1.300},{"x":32,"y":1.355},{"x":33,"y":1.378},{"x":33.5,"y":1.380},{"x":34,"y":1.375},
{"x":34.5,"y":1.376},{"x":35,"y":1.385},{"x":35.5,"y":1.400},{"x":36,"y":1.420},{"x":37,"y":1.480},{"x":38,"y":1.580},{"x":39,"y":1.740},{"x":40,"y":1.920},{"x":41,"y":2.150},{"x":42,"y":2.420},
{"x":42.5,"y":2.520},{"x":43,"y":2.590},{"x":43.5,"y":2.615},{"x":44,"y":2.590},{"x":44.5,"y":2.550},{"x":45,"y":2.500},{"x":46,"y":2.370},{"x":47,"y":2.220},{"x":48,"y":2.060},{"x":49,"y":1.880},
{"x":50,"y":1.600},{"x":51,"y":1.270},{"x":52,"y":0.980},{"x":53,"y":0.740},{"x":54,"y":0.570},{"x":55,"y":0.450},{"x":56,"y":0.360},{"x":57,"y":0.300},{"x":58,"y":0.255},{"x":59,"y":0.220},
{"x":60,"y":0.190},{"x":61,"y":0.165},{"x":62,"y":0.145},{"x":64,"y":0.115},{"x":66,"y":0.090},{"x":68,"y":0.072},{"x":70,"y":0.058},{"x":72,"y":0.047},{"x":74,"y":0.039},{"x":79,"y":0.026},
{"x":84,"y":0.018},{"x":94,"y":0.010},{"x":104,"y":0.006},{"x":124,"y":0.003},{"x":154,"y":0.001},{"x":170,"y":0.000}
],
"notes": [
{"x":-165,"y":-0.19,"text":"red crosses = measured at RadioAstronomy AAU"},
{"x":-165,"y":-0.29,"text":"Luserna San Giovanni (TO)"},
{"x":-165,"y":-0.39,"text":"www.osservatoriourania.it"},
{"x":5.2,"y":-0.19,"text":"blue continous line = Effelsberg reference"},
{"x":5.2,"y":-0.29,"text":"blue dotted line = Effelsberg reference + delta"}
],
"delta": [
{"x":5.2,"y":-0.412,"text":"delta = 34 km/s"}
]
},
"layer": [
{
"data": {"name": "measured"},
"mark": {"type": "point", "shape": "M-1,0H1M0,-1V1", "size": 240, "filled": false, "stroke": "#ff0000", "strokeWidth": 1.8, "opacity": 1, "clip": true},
"encoding": {
"x": {"field": "x", "type": "quantitative", "scale": {"domain": [-170, 170], "nice": false, "zero": false},
"axis": {"orient": "bottom", "values": [-160,-150,-140,-130,-120,-110,-100,-90,-80,-70,-60,-50,-40,-30,-20,-10,0,10,20,30,40,50,60,70,80,90,100,110,120,130,140,150,160],
"labelExpr": "datum.value % 50 === 0 ? '' + datum.value : ''",
"grid": true,
"gridColor": {"condition": {"test": "datum.value % 50 === 0", "value": "#d4d4d4"}, "value": "#c0c0c0"},
"gridDash": {"condition": {"test": "datum.value % 50 === 0", "value": []}, "value": [2, 4]},
"gridWidth": 1,
"tickOpacity": {"condition": {"test": "datum.value % 50 === 0", "value": 1}, "value": 0},
"tickSize": -10, "tickColor": "#505050", "tickWidth": 1.5,
"domain": false, "labelFont": "Liberation Sans", "labelFontSize": 21, "labelColor": "#333333", "labelPadding": 26,
"labelOverlap": false, "labelFlush": false,
"title": "doppler shift in km/s from center frequency", "titleFont": "DejaVu Sans", "titleFontSize": 31.5, "titleFontWeight": "normal", "titleColor": "#333333", "titlePadding": 7}},
"y": {"field": "y", "type": "quantitative", "scale": {"domain": [-0.5, 3.2], "nice": false, "zero": false},
"axis": {"orient": "left", "values": [-0.4,-0.2,0,0.2,0.4,0.6,0.8,1,1.2,1.4,1.6,1.8,2,2.2,2.4,2.6,2.8,3],
"labelExpr": "datum.value % 1 === 0 ? '' + datum.value : ''",
"grid": true,
"gridColor": {"condition": {"test": "datum.value % 1 === 0", "value": "#d4d4d4"}, "value": "#c0c0c0"},
"gridDash": {"condition": {"test": "datum.value % 1 === 0", "value": []}, "value": [2, 4]},
"gridWidth": 1,
"tickOpacity": {"condition": {"test": "datum.value % 1 === 0", "value": 1}, "value": 0},
"tickSize": -10, "tickColor": "#505050", "tickWidth": 1.5,
"domain": false, "labelFont": "Liberation Sans", "labelFontSize": 21, "labelColor": "#333333", "labelPadding": 22,
"labelOverlap": false, "labelFlush": false,
"title": "dB signal", "titleFont": "DejaVu Sans", "titleFontSize": 31, "titleFontWeight": "normal", "titleColor": "#333333", "titlePadding": 13}}
}
},
{
"mark": {"type": "rule", "color": "#00ee00", "strokeWidth": 2},
"encoding": {"x": {"datum": 0, "type": "quantitative", "axis": null}}
},
{
"data": {"name": "ref"},
"mark": {"type": "line", "color": "#0000ff", "strokeWidth": 5, "clip": true, "strokeJoin": "round"},
"encoding": {
"x": {"field": "x", "type": "quantitative", "axis": null},
"y": {"field": "y", "type": "quantitative", "axis": null}
}
},
{
"data": {"name": "shifted"},
"mark": {"type": "line", "color": "#0000ff", "strokeWidth": 5, "strokeDash": [5, 4.5], "clip": true},
"encoding": {
"x": {"field": "x", "type": "quantitative",
"axis": {"orient": "top", "values": [-150,-100,-50,0,50,100,150], "labels": false, "grid": false, "domain": false, "tickSize": -10, "tickColor": "#505050", "tickWidth": 1.5, "title": null}},
"y": {"field": "y", "type": "quantitative",
"axis": {"orient": "right", "values": [0,1,2,3], "labels": false, "grid": false, "domain": false, "tickSize": -10, "tickColor": "#505050", "tickWidth": 1.5, "title": null}}
}
},
{
"data": {"name": "notes"},
"mark": {"type": "text", "align": "left", "baseline": "middle", "font": "DejaVu Sans", "fontSize": 23, "color": "#000000"},
"encoding": {
"x": {"field": "x", "type": "quantitative", "axis": null},
"y": {"field": "y", "type": "quantitative", "axis": null},
"text": {"field": "text", "type": "nominal"}
}
},
{
"data": {"name": "delta"},
"mark": {"type": "text", "align": "left", "baseline": "middle", "font": "DejaVu Sans", "fontSize": 27, "color": "#000000"},
"encoding": {
"x": {"field": "x", "type": "quantitative", "axis": null},
"y": {"field": "y", "type": "quantitative", "axis": null},
"text": {"field": "text", "type": "nominal"}
}
}
],
"resolve": {"axis": {"x": "independent", "y": "independent"}}
}
